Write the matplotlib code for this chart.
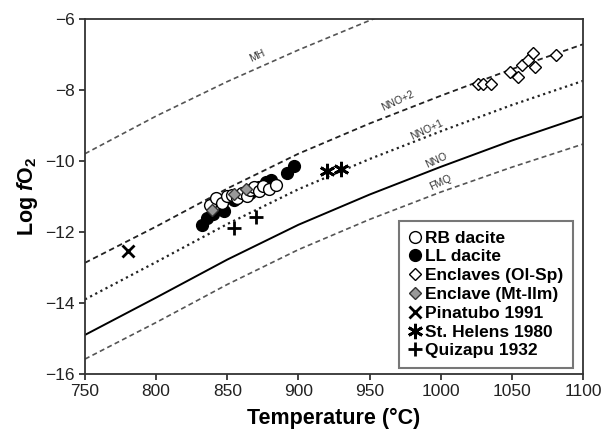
import matplotlib
matplotlib.use("Agg")
import matplotlib.pyplot as plt

plt.rcParams['font.family'] = ['Liberation Sans', 'DejaVu Sans']
plt.rcParams['mathtext.fontset'] = 'custom'
plt.rcParams['mathtext.it'] = 'Liberation Sans:italic:bold'
plt.rcParams['mathtext.rm'] = 'Liberation Sans:bold'

# buffer curves
buf_T = [750, 800, 850, 900, 950, 1000, 1050, 1100]
nno = [-14.9, -13.85, -12.78, -11.8, -10.95, -10.17, -9.43, -8.75]
nno2 = [-12.87, -11.85, -10.78, -9.8, -8.95, -8.17, -7.42, -6.72]
nno1 = [-13.9, -12.85, -11.78, -10.8, -9.95, -9.17, -8.43, -7.75]
fmq = [-15.58, -14.55, -13.48, -12.5, -11.65, -10.88, -10.18, -9.53]
mh_T = [750, 800, 850, 900, 950, 1000]
mh = [-9.8, -8.74, -7.77, -6.88, -6.05, -5.28]

# samples
ll_T = [832, 836, 840, 848, 855, 866, 872, 877, 881, 892, 897]
ll_f = [-11.82, -11.6, -11.5, -11.42, -11.1, -10.9, -10.75, -10.6, -10.55, -10.33, -10.15]
rb_T = [838, 842, 846, 850, 853, 857, 860, 864, 866, 869, 872, 875, 879, 884]
rb_f = [-11.25, -11.05, -11.18, -11.0, -10.95, -11.05, -10.9, -11.0, -10.82, -10.75, -10.85, -10.7, -10.8, -10.68]
olsp_T = [1026, 1030, 1035, 1049, 1054, 1057, 1061, 1065, 1066, 1081]
olsp_f = [-7.85, -7.83, -7.85, -7.5, -7.65, -7.3, -7.15, -6.97, -7.35, -7.03]
mtilm_T = [839, 855, 863]
mtilm_f = [-11.38, -10.93, -10.8]
pin_T, pin_f = [780], [-12.53]
sth_T, sth_f = [920, 930], [-10.29, -10.23]
qui_T, qui_f = [855, 870], [-11.9, -11.57]

fig = plt.figure(figsize=(6.09, 4.43), dpi=100)
ax = fig.add_axes([0.1396, 0.1558, 0.8177, 0.8020])

ax.plot(mh_T, mh, color='#555555', ls=(0, (3, 2)), lw=1.2)
ax.plot(buf_T, nno2, color='#222222', ls=(0, (3, 2)), lw=1.3)
ax.plot(buf_T, nno1, color='#222222', ls=(0, (1, 1.6)), lw=1.6)
ax.plot(buf_T, nno, color='black', lw=1.4)
ax.plot(buf_T, fmq, color='#555555', ls=(0, (3, 2)), lw=1.2)

lab = dict(fontsize=7.5, color='#333333', ha='center', va='center', rotation=25)
ax.text(871, -7.05, 'MH', **lab)
ax.text(970, -8.3, 'NNO+2', **lab)
ax.text(990, -9.12, 'NNO+1', **lab)
ax.text(997, -9.98, 'NNO', **lab)
ax.text(1000, -10.6, 'FMQ', **lab)

ax.plot(ll_T, ll_f, 'o', ms=8.5, mfc='black', mec='black', label='LL dacite', zorder=3)
ax.plot(rb_T, rb_f, 'o', ms=8.5, mfc='white', mec='black', mew=1.0, label='RB dacite', zorder=4)
ax.plot(mtilm_T, mtilm_f, 'D', ms=6.5, mfc='#999999', mec='#333333', mew=1.0, label='Enclave (Mt-Ilm)', zorder=5)
ax.plot(olsp_T, olsp_f, 'D', ms=6.5, mfc='white', mec='black', mew=1.0, label='Enclaves (Ol-Sp)', zorder=5)
ax.plot(pin_T, pin_f, 'x', ms=9, mew=2, color='black', label='Pinatubo 1991', zorder=5)
ax.plot(sth_T, sth_f, marker=(6, 2, 0), ls='none', ms=11, mew=2, color='black', label='St. Helens 1980', zorder=5)
ax.plot(qui_T, qui_f, '+', ms=10, mew=2, color='black', label='Quizapu 1932', zorder=5)

ax.set_xlim(750, 1100)
ax.set_ylim(-16, -6)
ax.set_xticks(range(750, 1101, 50))
ax.set_yticks(range(-16, -5, 2))
ax.tick_params(direction='out', length=4, width=1.2, labelsize=12.5, colors='#222222')
for s in ax.spines.values():
    s.set_linewidth(1.3)
    s.set_color('#333333')

ax.set_xlabel('Temperature (°C)', fontsize=15.5, fontweight='bold', labelpad=6)
ax.set_ylabel(r'Log $f$O$_2$', fontsize=15.5, fontweight='bold', labelpad=4)

h, l = ax.get_legend_handles_labels()
order = ['RB dacite', 'LL dacite', 'Enclaves (Ol-Sp)', 'Enclave (Mt-Ilm)',
         'Pinatubo 1991', 'St. Helens 1980', 'Quizapu 1932']
hd = dict(zip(l, h))
leg = ax.legend([hd[k] for k in order], order, loc='lower right',
                bbox_to_anchor=(0.98, 0.017), borderaxespad=0, fancybox=False,
                prop={'weight': 'bold', 'size': 12.5}, handlelength=0.7,
                handletextpad=0.25, labelspacing=0.21, borderpad=0.55,
                edgecolor='#777777', framealpha=1)
leg.get_frame().set_linewidth(1.5)

fig.savefig('out.png', dpi=100)
